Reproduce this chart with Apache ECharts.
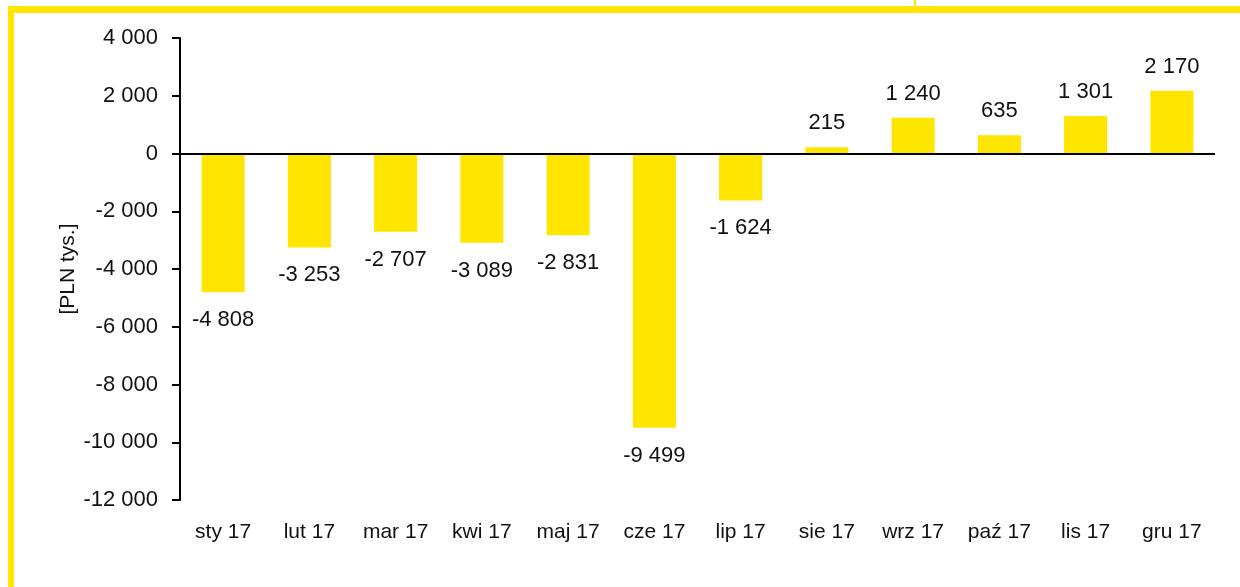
<!DOCTYPE html>
<html><head><meta charset="utf-8">
<script src="https://cdn.jsdelivr.net/npm/echarts@6/dist/echarts.min.js"></script>
<style>html,body{margin:0;padding:0;background:#fff}#c{width:1240px;height:587px}</style>
</head><body><div id="c"></div>
<script>
const categories = ['sty 17','lut 17','mar 17','kwi 17','maj 17','cze 17','lip 17','sie 17','wrz 17','paź 17','lis 17','gru 17'];
const values = [-4808,-3253,-2707,-3089,-2831,-9499,-1624,215,1240,635,1301,2170];
const yTicks = [-12000,-10000,-8000,-6000,-4000,-2000,0,2000,4000];
const yTitle = '[PLN tys.]';

const FONT = '"Liberation Sans Narrow","Arial Narrow","Liberation Sans",sans-serif';
const YEL = '#FFE500';
function fmt(v){
  const s = Math.abs(v).toString().replace(/\B(?=(\d{3})+(?!\d))/g,' ');
  return (v<0?'-':'')+s;
}
const chart = echarts.init(document.getElementById('c'));
chart.setOption({
  animation:false,
  grid:{left:180,right:25,top:38,bottom:87,containLabel:false},
  xAxis:{type:'category',data:categories,
    axisLine:{show:false},axisTick:{show:false},
    axisLabel:{interval:0,color:'#111',fontFamily:FONT,fontSize:21,margin:22}},
  yAxis:{type:'value',min:yTicks[0],max:yTicks[yTicks.length-1],interval:2000,
    name:yTitle,nameLocation:'middle',nameGap:101,nameRotate:90,nameMoveOverlap:false,
    nameTextStyle:{color:'#111',fontFamily:FONT,fontSize:21},
    splitLine:{show:false},
    axisLine:{show:true,lineStyle:{color:'#000',width:2}},
    axisTick:{show:true,length:8,lineStyle:{color:'#000',width:2}},
    axisLabel:{color:'#111',fontFamily:FONT,fontSize:22,margin:22,formatter:fmt}},
  series:[{type:'bar',data:values.map(v=>({value:v,label:{position:v<0?'bottom':'top',distance:v<0?17:13}})),
    barWidth:'50%',itemStyle:{color:YEL},
    label:{show:true,color:'#111',fontFamily:FONT,fontSize:22,formatter:p=>fmt(p.value)},
    markLine:{silent:true,symbol:'none',label:{show:false},
      lineStyle:{color:'#000',width:2,type:'solid'},data:[{yAxis:0}]}
  }],
  graphic:[
    {type:'rect',shape:{x:8,y:6,width:1232,height:7},style:{fill:YEL}},
    {type:'rect',shape:{x:8,y:6,width:6,height:581},style:{fill:YEL}},
    {type:'rect',shape:{x:914,y:0,width:2,height:8},style:{fill:YEL}}
  ]
});
</script></body></html>
